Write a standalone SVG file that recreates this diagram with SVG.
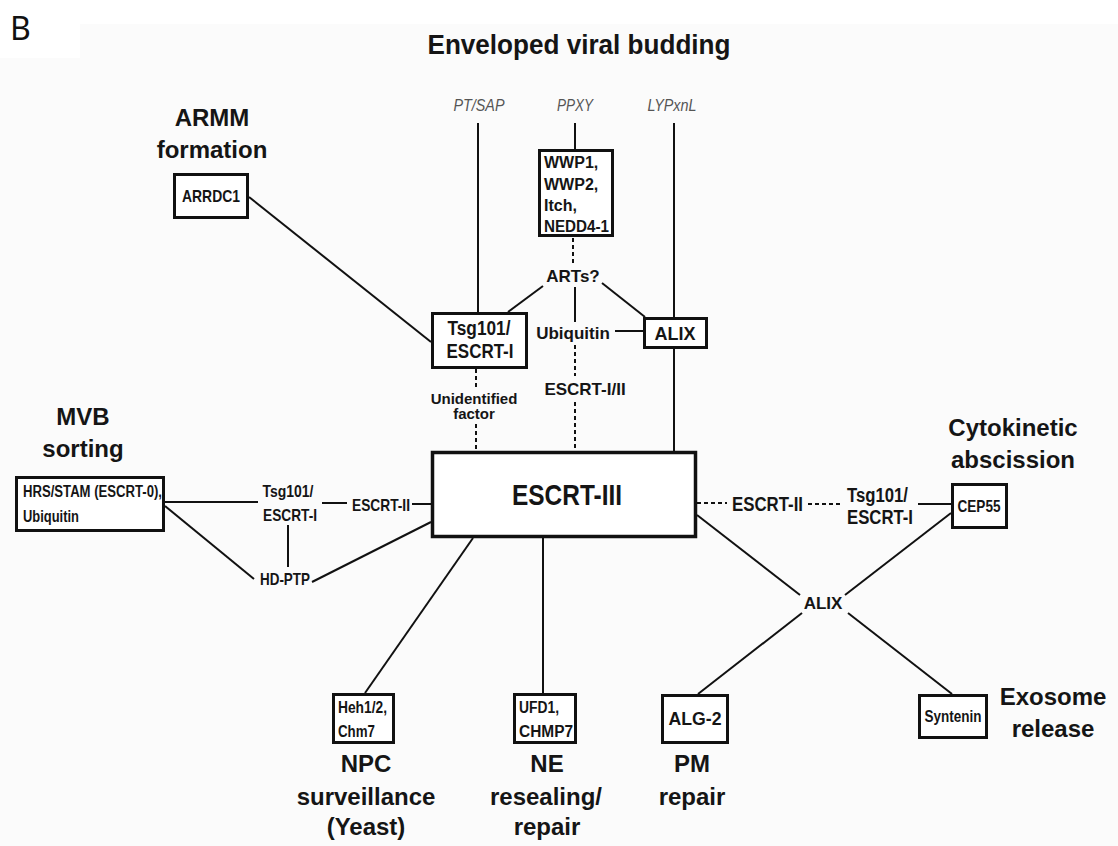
<svg xmlns="http://www.w3.org/2000/svg" width="1118" height="846" viewBox="0 0 1118 846">
<style>
text{font-family:"Liberation Sans",Arial,sans-serif;font-weight:bold;fill:#151515}
.m{text-anchor:middle}
.h{font-size:24px}
.it{font-style:italic;font-weight:normal;fill:#555;font-size:17px}
.s15{font-size:15px}.s16{font-size:16px}.s17{font-size:17px}.s18{font-size:18px}.s19{font-size:19px}.s20{font-size:20px}
.box{fill:#fff;stroke:#111;stroke-width:3}
.ln{stroke:#111;stroke-width:2;fill:none}
.ds{stroke:#111;stroke-width:2;fill:none;stroke-dasharray:4 3}
</style>
<rect x="0" y="0" width="1118" height="846" fill="#fff"/>
<path d="M0 58H80V24H1118V846H0Z" fill="#fbfbfb"/>
<text x="10" y="40" style="font-family:'Noto Sans','Open Sans',sans-serif;font-weight:normal;font-size:32px;fill:#111">B</text>
<text x="579" y="54" class="m" style="font-size:28px" textLength="303" lengthAdjust="spacingAndGlyphs">Enveloped viral budding</text>

<g id="connectors">
<line class="ln" x1="478" y1="123" x2="478" y2="312"/>
<line class="ln" x1="575" y1="123" x2="575" y2="149"/>
<line class="ln" x1="674" y1="123" x2="674" y2="317"/>
<line class="ln" x1="674" y1="349" x2="674" y2="451"/>
<line class="ln" x1="249" y1="197" x2="431" y2="342"/>
<line class="ln" x1="543" y1="286" x2="508" y2="312"/>
<line class="ln" x1="602" y1="283" x2="645" y2="317"/>
<line class="ds" x1="573" y1="238" x2="573" y2="266"/>
<line class="ln" x1="575" y1="287" x2="575" y2="322"/>
<line class="ln" x1="615" y1="331" x2="643" y2="331"/>
<line class="ds" x1="575" y1="345" x2="575" y2="376"/>
<line class="ds" x1="575" y1="402" x2="575" y2="451"/>
<line class="ds" x1="476" y1="369" x2="476" y2="388"/>
<line class="ds" x1="476" y1="424" x2="476" y2="451"/>
<line class="ln" x1="165" y1="502" x2="258" y2="502"/>
<line class="ln" x1="322" y1="503" x2="347" y2="503"/>
<line class="ln" x1="412" y1="504" x2="431" y2="504"/>
<line class="ln" x1="288" y1="525" x2="288" y2="567"/>
<line class="ln" x1="165" y1="506" x2="254" y2="579"/>
<line class="ln" x1="312" y1="582" x2="431" y2="522"/>
<line class="ln" x1="473" y1="538" x2="365" y2="693"/>
<line class="ln" x1="543" y1="538" x2="543" y2="693"/>
<line class="ln" x1="697" y1="515" x2="800" y2="595"/>
<line class="ln" x1="951" y1="513" x2="845" y2="595"/>
<line class="ln" x1="802" y1="613" x2="698" y2="694"/>
<line class="ln" x1="848" y1="613" x2="952" y2="694"/>
<line class="ds" x1="697" y1="503" x2="727" y2="503"/>
<line class="ds" x1="808" y1="504" x2="843" y2="504"/>
<line class="ln" x1="918" y1="504" x2="951" y2="504"/>
</g>

<g id="motifs">
<text x="479" y="111" class="it m" textLength="51" lengthAdjust="spacingAndGlyphs">PT/SAP</text>
<text x="575" y="111" class="it m" textLength="36" lengthAdjust="spacingAndGlyphs">PPXY</text>
<text x="672" y="111" class="it m" textLength="49" lengthAdjust="spacingAndGlyphs">LYPxnL</text>
</g>

<g id="armm">
<text x="212" y="126" class="h m">ARMM</text>
<text x="212" y="158" class="h m">formation</text>
</g>
<g id="arrdc1">
<rect class="box" x="174.5" y="174.5" width="73" height="43"/>
<text x="211" y="202" class="s17 m" textLength="58" lengthAdjust="spacingAndGlyphs">ARRDC1</text>
</g>
<g id="wwp">
<rect class="box" x="539.5" y="150.5" width="73" height="85"/>
<text x="544" y="168" class="s16">WWP1,</text>
<text x="544" y="190" class="s16">WWP2,</text>
<text x="544" y="211" class="s16">Itch,</text>
<text x="544" y="232" class="s16" textLength="65" lengthAdjust="spacingAndGlyphs">NEDD4-1</text>
</g>
<g id="arts"><text x="573" y="282" class="s17 m">ARTs?</text></g>
<g id="ubiquitin"><text x="573" y="339" class="s17 m">Ubiquitin</text></g>
<g id="alix-top">
<rect class="box" x="644.5" y="318.5" width="62" height="29"/>
<text x="675" y="340" class="s18 m">ALIX</text>
</g>
<g id="tsg-top">
<rect class="box" x="432.5" y="313.5" width="94" height="54"/>
<text x="479" y="335" class="s20 m" textLength="63" lengthAdjust="spacingAndGlyphs">Tsg101/</text>
<text x="480" y="358" class="s20 m" textLength="67" lengthAdjust="spacingAndGlyphs">ESCRT-I</text>
</g>
<g id="unidentified">
<text x="474" y="404" class="s15 m">Unidentified</text>
<text x="474" y="419" class="s15 m">factor</text>
</g>
<g id="escrt12"><text x="585" y="395" class="s17 m">ESCRT-I/II</text></g>

<g id="escrt3">
<rect x="432.5" y="452.5" width="263" height="84" fill="#fff" stroke="#111" stroke-width="3.5"/>
<text x="567" y="505" class="m" style="font-size:30px" textLength="110" lengthAdjust="spacingAndGlyphs">ESCRT-III</text>
</g>

<g id="mvb">
<text x="83" y="425" class="h m">MVB</text>
<text x="83" y="457" class="h m">sorting</text>
</g>
<g id="hrs">
<rect class="box" x="16.5" y="477.5" width="147" height="53"/>
<text x="23" y="497" class="s16" textLength="139" lengthAdjust="spacingAndGlyphs">HRS/STAM (ESCRT-0),</text>
<text x="23" y="522" class="s16" textLength="56" lengthAdjust="spacingAndGlyphs">Ubiquitin</text>
</g>
<g id="tsg-left">
<text x="288" y="497" class="s17 m" textLength="51" lengthAdjust="spacingAndGlyphs">Tsg101/</text>
<text x="290" y="521" class="s17 m" textLength="54" lengthAdjust="spacingAndGlyphs">ESCRT-I</text>
</g>
<g id="escrt2-left"><text x="352" y="511" class="s17" textLength="58" lengthAdjust="spacingAndGlyphs">ESCRT-II</text></g>
<g id="hdptp"><text x="260" y="585" class="s17" textLength="50" lengthAdjust="spacingAndGlyphs">HD-PTP</text></g>

<g id="cytokinetic">
<text x="1013" y="436" class="h m">Cytokinetic</text>
<text x="1013" y="468" class="h m">abscission</text>
</g>
<g id="escrt2-right"><text x="732" y="511" class="s20" textLength="71" lengthAdjust="spacingAndGlyphs">ESCRT-II</text></g>
<g id="tsg-right">
<text x="847" y="502" class="s20" textLength="61" lengthAdjust="spacingAndGlyphs">Tsg101/</text>
<text x="847" y="524" class="s20" textLength="66" lengthAdjust="spacingAndGlyphs">ESCRT-I</text>
</g>
<g id="cep55">
<rect class="box" x="952.5" y="484.5" width="54" height="43"/>
<text x="979" y="512" class="s17 m" textLength="43" lengthAdjust="spacingAndGlyphs">CEP55</text>
</g>
<g id="alix-bottom"><text x="823" y="609" class="s17 m">ALIX</text></g>

<g id="heh">
<rect class="box" x="333.5" y="694.5" width="60" height="48"/>
<text x="338" y="713" class="s16" textLength="49" lengthAdjust="spacingAndGlyphs">Heh1/2,</text>
<text x="338" y="737" class="s16" textLength="37" lengthAdjust="spacingAndGlyphs">Chm7</text>
</g>
<g id="npc">
<text x="366" y="772" class="h m">NPC</text>
<text x="366" y="805" class="h m">surveillance</text>
<text x="366" y="835" class="h m">(Yeast)</text>
</g>
<g id="ufd1">
<rect class="box" x="514.5" y="694.5" width="61" height="48"/>
<text x="519" y="713" class="s16" textLength="40" lengthAdjust="spacingAndGlyphs">UFD1,</text>
<text x="519" y="737" class="s16" textLength="54" lengthAdjust="spacingAndGlyphs">CHMP7</text>
</g>
<g id="ne">
<text x="547" y="772" class="h m">NE</text>
<text x="546" y="805" class="h m">resealing/</text>
<text x="547" y="835" class="h m">repair</text>
</g>
<g id="alg2">
<rect class="box" x="662.5" y="695.5" width="65" height="47"/>
<text x="695" y="725" class="s19 m" textLength="53" lengthAdjust="spacingAndGlyphs">ALG-2</text>
</g>
<g id="pm">
<text x="692" y="772" class="h m">PM</text>
<text x="692" y="805" class="h m">repair</text>
</g>
<g id="syntenin">
<rect class="box" x="919.5" y="695.5" width="67" height="42"/>
<text x="953" y="722" class="s16 m" textLength="57" lengthAdjust="spacingAndGlyphs">Syntenin</text>
</g>
<g id="exosome">
<text x="1053" y="705" class="h m">Exosome</text>
<text x="1053" y="737" class="h m">release</text>
</g>
</svg>
